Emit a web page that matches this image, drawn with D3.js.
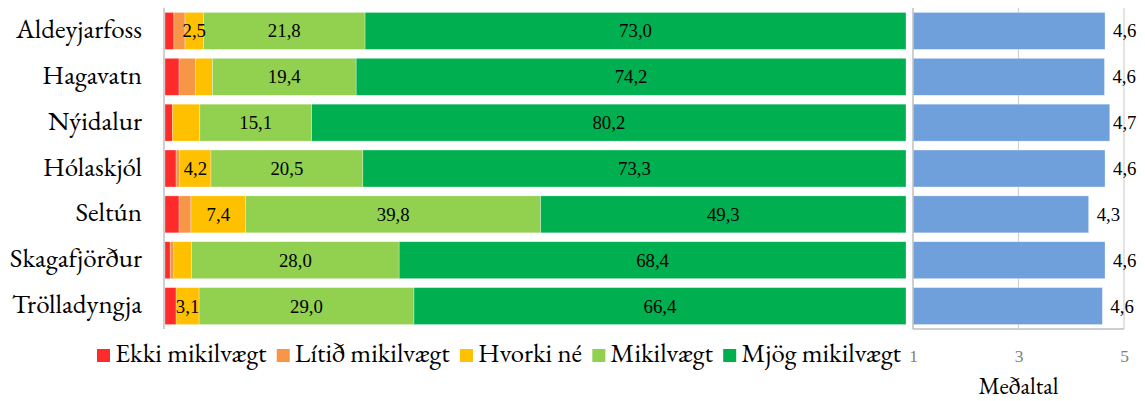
<!DOCTYPE html>
<html><head><meta charset="utf-8">
<script src="https://cdn.jsdelivr.net/npm/d3@7"></script>
<style>body{margin:0;background:#fff}svg{display:block}</style>
</head><body><svg id="c" width="1145" height="401"></svg>
<script>
const categories = ["Aldeyjarfoss","Hagavatn","Nýidalur","Hólaskjól","Seltún","Skagafjörður","Trölladyngja"];
const seriesNames = ["Ekki mikilvægt","Lítið mikilvægt","Hvorki né","Mikilvægt","Mjög mikilvægt"];
const ekkiMikilvaegt   = [1.2, 1.9, 1.0, 1.5, 1.9, 0.7, 1.5];
const litidMikilvaegt  = [1.5, 2.2, 0.0, 0.5, 1.6, 0.5, 0.0];
const hvorkiNe         = [2.5, 2.3, 3.7, 4.2, 7.4, 2.4, 3.1];
const mikilvaegt       = [21.8, 19.4, 15.1, 20.5, 39.8, 28.0, 29.0];
const mjogMikilvaegt   = [73.0, 74.2, 80.2, 73.3, 49.3, 68.4, 66.4];
const medaltal         = [4.64, 4.63, 4.73, 4.64, 4.33, 4.64, 4.59];
const medaltalLabels   = ["4,6","4,6","4,7","4,6","4,3","4,6","4,6"];
const meanTicks        = [1, 3, 5];
const meanAxisTitle    = "Meðaltal";
const hiddenLabels     = ["Hagavatn|Hvorki né","Nýidalur|Hvorki né","Skagafjörður|Hvorki né"];
const colors = ["#FF2B2B","#F79646","#FFC000","#92D050","#00B050"];
const meanColor = "#6FA0DC";
const FONT = "'EB Garamond', 'Liberation Serif', serif";
const NUMFONT = "'Liberation Serif', 'Times New Roman', serif";

const seriesValues = [ekkiMikilvaegt, litidMikilvaegt, hvorkiNe, mikilvaegt, mjogMikilvaegt];
const rows = categories.map((c,i)=>{const o={cat:c}; seriesNames.forEach((s,j)=>o[s]=seriesValues[j][i]); return o;});
const stack = d3.stack().keys(seriesNames)(rows);

const svg = d3.select("#c");
function T(sel,size,fam){ return sel.style("font-family",fam||FONT).style("font-size",size+"px"); }
// font size so that given strings sum to a target width
function fit(strings, target, fam){
  const t = T(svg.append("text"),100,fam);
  let w = 0; strings.forEach(s=>{ t.text(s); w += t.node().getComputedTextLength(); });
  t.remove(); return 100*target/w;
}
const catSize = fit(["Aldeyjarfoss"],126);
const lblSize = fit(["2,5","4,6"],47,NUMFONT);
const titleSize = fit([meanAxisTitle],80);
const legSize = fit(seriesNames,673);
const tickSize = lblSize*0.93;

const y = d3.scaleBand().domain(categories).range([8,329]).paddingInner(0.194).paddingOuter(0.097);
const xL = d3.scaleLinear().domain([0,100]).range([165,906]);
const xR = d3.scaleLinear().domain([1,5]).range([913,1124]);
const fmt = v => d3.format(".1f")(v).replace(".",",");

// right panel gridlines
svg.append("g").selectAll("line").data(meanTicks.slice(1)).join("line")
  .attr("x1",d=>xR(d)).attr("x2",d=>xR(d)).attr("y1",8).attr("y2",329)
  .attr("stroke","#D0D0D0").attr("stroke-width",1.2);

// stacked bars
const g = svg.append("g");
stack.forEach((layer,j)=>{
  g.append("g").attr("fill",colors[j]).selectAll("rect").data(layer).join("rect")
    .attr("x",d=>xL(d[0])).attr("width",d=>Math.max(0,xL(d[1])-xL(d[0])))
    .attr("y",d=>y(d.data.cat)).attr("height",y.bandwidth())
    .attr("stroke","#fff").attr("stroke-opacity",0.5).attr("stroke-width",0.6);
});
stack.forEach((layer,j)=>{
  T(g.append("g").selectAll("text").data(layer.filter(d=>(d[1]-d[0])>=2.5 && !hiddenLabels.includes(d.data.cat+"|"+seriesNames[j])))
    .join("text").attr("x",d=>(xL(d[0])+xL(d[1]))/2).attr("y",d=>y(d.data.cat)+y.bandwidth()/2+6.5)
    .attr("text-anchor","middle").attr("fill","#000")
    .text(d=>fmt(d[1]-d[0])), lblSize, NUMFONT);
});

// left axis line
svg.append("line").attr("x1",164).attr("x2",164).attr("y1",8).attr("y2",329).attr("stroke","#BFBFBF").attr("stroke-width",1.5);
// category labels
T(svg.append("g").selectAll("text").data(categories).join("text")
  .attr("x",142).attr("y",d=>y(d)+y.bandwidth()/2+7).attr("text-anchor","end")
  .attr("fill","#000").text(d=>d), catSize);

// mean bars
svg.append("g").selectAll("rect").data(categories).join("rect")
  .attr("x",xR(1)).attr("width",(d,i)=>xR(medaltal[i])-xR(1))
  .attr("y",d=>y(d)).attr("height",y.bandwidth()).attr("fill",meanColor)
  .attr("stroke","#fff").attr("stroke-opacity",0.5).attr("stroke-width",0.6);
T(svg.append("g").selectAll("text").data(categories).join("text")
  .attr("x",(d,i)=>Math.min(xR(medaltal[i])+8,1113)).attr("y",d=>y(d)+y.bandwidth()/2+6.5)
  .attr("fill","#000").text((d,i)=>medaltalLabels[i]), lblSize, NUMFONT);

// right axes
svg.append("line").attr("x1",xR(1)).attr("x2",xR(1)).attr("y1",8).attr("y2",329).attr("stroke","#BFBFBF").attr("stroke-width",1.5);
svg.append("line").attr("x1",xR(1)).attr("x2",xR(5)).attr("y1",329).attr("y2",329).attr("stroke","#BFBFBF").attr("stroke-width",1.5);
const ax = svg.append("g").attr("transform","translate(0,329)").call(d3.axisBottom(xR).tickValues(meanTicks).tickSize(0).tickPadding(0).tickFormat(d3.format("d")));
ax.select(".domain").remove();
T(ax.selectAll("text").attr("y",32.5).attr("dy",null).attr("fill","#7F7F7F"), tickSize, NUMFONT);
T(svg.append("text").attr("x",(xR(1)+xR(5))/2).attr("y",394).attr("text-anchor","middle").attr("fill","#000").text(meanAxisTitle), titleSize);

// legend
const lg = svg.append("g");
const items = seriesNames.map((s,i)=>{
  const it = lg.append("g");
  it.append("rect").attr("width",13).attr("height",13).attr("y",349).attr("fill",colors[i]);
  const t = T(it.append("text").attr("x",18).attr("y",362).attr("fill","#000").text(s), legSize);
  return {it, w: 18 + t.node().getComputedTextLength()};
});
const startX = 97, endX = 901;
const total = d3.sum(items, d=>d.w);
const gap = (endX - startX - total)/(items.length-1);
let cx = startX;
items.forEach(d=>{ d.it.attr("transform",`translate(${cx},0)`); cx += d.w + gap; });
</script></body></html>
